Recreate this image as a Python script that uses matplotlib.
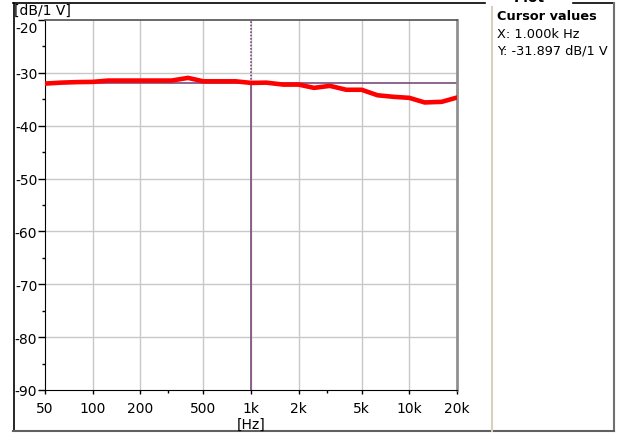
import numpy as np
import matplotlib
matplotlib.use("Agg")
import matplotlib.pyplot as plt
import matplotlib.transforms as mtransforms
from matplotlib.lines import Line2D
from matplotlib.ticker import FixedLocator, NullFormatter

# 1/3 octave frequencies and measured level
freqs = [50, 63, 80, 100, 125, 160, 200, 250, 315, 400, 500, 630, 800, 1000,
         1250, 1600, 2000, 2500, 3150, 4000, 5000, 6300, 8000, 10000,
         12500, 16000, 20000]
levels = [-32.03, -31.85, -31.75, -31.71, -31.46, -31.46, -31.46, -31.46, -31.46,
          -30.95, -31.6, -31.6, -31.6, -31.9,
          -31.85, -32.22, -32.22, -32.84, -32.46, -33.2, -33.2, -34.24, -34.54,
          -34.73, -35.6, -35.48, -34.67]

x_ticks = [50, 100, 200, 500, 1000, 2000, 5000, 10000, 20000]
x_labels = ['50', '100', '200', '500', '1k', '2k', '5k', '10k', '20k']
x_minor = [300, 3000]
y_ticks = [-20, -30, -40, -50, -60, -70, -80, -90]

cursor_x = 1000
cursor_y = -31.897

plt.rcParams['font.family'] = ['DejaVu Sans']
plt.rcParams['font.size'] = 10

fig = plt.figure(figsize=(6.27, 4.39), dpi=100)
ax = fig.add_axes([45 / 627, 1 - 391 / 439, 412 / 627, 370 / 439])

ax.set_xscale('log')
ax.set_xlim(50, 20000)
ax.set_ylim(-90, -20)

ax.xaxis.set_major_locator(FixedLocator(x_ticks))
ax.set_xticklabels(x_labels)
ax.xaxis.set_minor_locator(FixedLocator(x_minor))
ax.xaxis.set_minor_formatter(NullFormatter())
ax.yaxis.set_major_locator(FixedLocator(y_ticks))
ax.set_yticklabels([str(v) for v in y_ticks])
ax.yaxis.set_minor_locator(FixedLocator([v - 5 for v in y_ticks[:-1]]))

ax.tick_params(axis='y', which='major', direction='out', length=5, width=1, pad=0.5, labelsize=10)
ax.tick_params(axis='x', which='major', direction='out', length=3, width=1, pad=5, labelsize=10)
ax.tick_params(which='minor', direction='out', length=2.2, width=1)

# top label sits a little lower, under the unit text
top_lbl = ax.get_yticklabels()[0]
top_lbl.set_transform(top_lbl.get_transform() +
                      mtransforms.ScaledTranslation(0, -6 / 100, fig.dpi_scale_trans))

grid_c = '#c8c8c8'
for f in x_ticks[1:-1]:
    ax.axvline(f, color=grid_c, lw=1, zorder=0)
for v in y_ticks[1:-1]:
    ax.axhline(v, color=grid_c, lw=1, zorder=0)

ax.spines['left'].set_color('black')
ax.spines['bottom'].set_color('black')
ax.spines['top'].set_color('#505050')
ax.spines['top'].set_linewidth(1.2)
ax.spines['right'].set_color('#909090')
ax.spines['right'].set_linewidth(2)

cur_c = '#7a4a7e'
ax.axhline(cursor_y, color=cur_c, lw=1.2, zorder=2)
ax.plot([cursor_x, cursor_x], [-90, cursor_y], color=cur_c, lw=1.2, zorder=2)
ax.plot([cursor_x, cursor_x], [cursor_y, -20], color=cur_c, lw=1.2, ls=(0, (1, 1)), zorder=2)

ax.plot(freqs, levels, color='#ff0000', lw=3.3, solid_joinstyle='round', zorder=3)

fig.text(14 / 627, 1 - 11 / 439, '[dB/1 V]', ha='left', va='center', fontsize=10)
fig.text(251 / 627, 1 - 425 / 439, '[Hz]', ha='center', va='center', fontsize=10)

# panel frame
def fline(xs, ys, **kw):
    fig.add_artist(Line2D([x / 627 for x in xs], [1 - y / 439 for y in ys],
                          transform=fig.transFigure, **kw))

fline([13.5, 13.5], [4, 431], color='black', lw=1.2)
fline([13, 485], [4, 4], color='black', lw=1.2)
fline([573, 614], [4, 4], color='black', lw=1.2)
fline([613.5, 613.5], [4, 432], color='#707070', lw=1.5)
fline([13, 614], [431.5, 431.5], color='#606060', lw=1.5)
fline([492, 492], [8, 432], color='#d8cfbd', lw=1.5)

fig.text(529 / 627, 1 - 1.5 / 439, 'Plot', ha='center', va='baseline',
         fontsize=10, fontweight='bold')

fig.text(497 / 627, 1 - 17 / 439, 'Cursor values', ha='left', va='center',
         fontsize=9.3, fontweight='bold')
fig.text(497 / 627, 1 - 34 / 439, 'X: 1.000k Hz', ha='left', va='center', fontsize=9.3)
fig.text(497 / 627, 1 - 51 / 439, 'Y: -31.897 dB/1 V', ha='left', va='center', fontsize=9.3)

fig.savefig('out.png', dpi=100)
